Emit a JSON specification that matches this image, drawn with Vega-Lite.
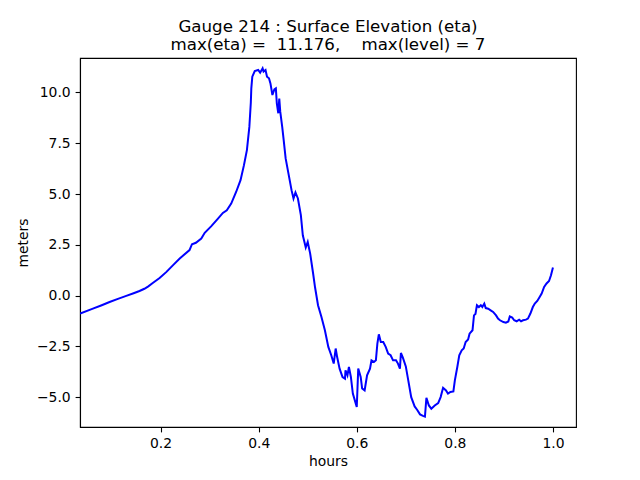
{
  "$schema": "https://vega.github.io/schema/vega-lite/v6.json",
  "autosize": {"type": "none"},
  "padding": {"left": 80, "top": 58, "right": 64, "bottom": 53},
  "width": 496,
  "height": 369,
  "title": {
    "text": ["Gauge 214 : Surface Elevation (eta)", "max(eta) =\u00a0\u00a011.176,\u00a0\u00a0\u00a0\u00a0max(level) = 7"],
    "font": "DejaVu Sans",
    "fontSize": 16.67,
    "fontWeight": "normal",
    "color": "black",
    "anchor": "middle",
    "lineHeight": 18,
    "offset": 4
  },
  "config": {
    "view": {"stroke": "black", "strokeWidth": 1.1},
    "axis": {
      "domainColor": "black",
      "domainWidth": 1.1,
      "tickColor": "black",
      "tickWidth": 1.1,
      "tickSize": 4.9,
      "labelFont": "DejaVu Sans",
      "labelFontSize": 13.9,
      "labelColor": "black",
      "labelPadding": 4.9,
      "titleFont": "DejaVu Sans",
      "titleFontSize": 13.9,
      "titleFontWeight": "normal",
      "titleColor": "black",
      "grid": false
    }
  },
  "data": {
    "values": [
      {"hours": 0.036, "eta": -0.88},
      {"hours": 0.062, "eta": -0.64},
      {"hours": 0.080, "eta": -0.47},
      {"hours": 0.096, "eta": -0.31},
      {"hours": 0.113, "eta": -0.16},
      {"hours": 0.130, "eta": -0.01},
      {"hours": 0.145, "eta": 0.12},
      {"hours": 0.157, "eta": 0.23},
      {"hours": 0.167, "eta": 0.34},
      {"hours": 0.175, "eta": 0.46},
      {"hours": 0.184, "eta": 0.62},
      {"hours": 0.198, "eta": 0.87},
      {"hours": 0.212, "eta": 1.17},
      {"hours": 0.225, "eta": 1.49},
      {"hours": 0.239, "eta": 1.83},
      {"hours": 0.259, "eta": 2.24},
      {"hours": 0.264, "eta": 2.53},
      {"hours": 0.272, "eta": 2.60},
      {"hours": 0.283, "eta": 2.81},
      {"hours": 0.290, "eta": 3.09},
      {"hours": 0.303, "eta": 3.41},
      {"hours": 0.317, "eta": 3.79},
      {"hours": 0.327, "eta": 4.07},
      {"hours": 0.335, "eta": 4.20},
      {"hours": 0.344, "eta": 4.53},
      {"hours": 0.354, "eta": 5.10},
      {"hours": 0.363, "eta": 5.68},
      {"hours": 0.370, "eta": 6.42},
      {"hours": 0.376, "eta": 7.16},
      {"hours": 0.381, "eta": 8.30},
      {"hours": 0.384, "eta": 9.50},
      {"hours": 0.385, "eta": 10.2},
      {"hours": 0.387, "eta": 10.77},
      {"hours": 0.392, "eta": 11.05},
      {"hours": 0.399, "eta": 11.10},
      {"hours": 0.403, "eta": 10.97},
      {"hours": 0.408, "eta": 11.18},
      {"hours": 0.410, "eta": 11.02},
      {"hours": 0.414, "eta": 11.10},
      {"hours": 0.417, "eta": 10.77},
      {"hours": 0.421, "eta": 10.69},
      {"hours": 0.424, "eta": 10.44},
      {"hours": 0.428, "eta": 9.87},
      {"hours": 0.432, "eta": 10.15},
      {"hours": 0.435, "eta": 10.20},
      {"hours": 0.437, "eta": 9.46},
      {"hours": 0.440, "eta": 8.97},
      {"hours": 0.442, "eta": 9.70},
      {"hours": 0.444, "eta": 9.05},
      {"hours": 0.448, "eta": 8.30},
      {"hours": 0.451, "eta": 7.65},
      {"hours": 0.455, "eta": 6.75},
      {"hours": 0.462, "eta": 5.84},
      {"hours": 0.467, "eta": 5.19},
      {"hours": 0.471, "eta": 4.78},
      {"hours": 0.475, "eta": 5.08},
      {"hours": 0.480, "eta": 4.78},
      {"hours": 0.486, "eta": 3.96},
      {"hours": 0.490, "eta": 2.97},
      {"hours": 0.496, "eta": 2.37},
      {"hours": 0.500, "eta": 2.64},
      {"hours": 0.505, "eta": 2.07},
      {"hours": 0.511, "eta": 1.09},
      {"hours": 0.515, "eta": 0.40},
      {"hours": 0.521, "eta": -0.47},
      {"hours": 0.528, "eta": -1.05},
      {"hours": 0.535, "eta": -1.70},
      {"hours": 0.542, "eta": -2.52},
      {"hours": 0.548, "eta": -2.93},
      {"hours": 0.553, "eta": -3.34},
      {"hours": 0.557, "eta": -2.60},
      {"hours": 0.560, "eta": -3.02},
      {"hours": 0.565, "eta": -3.59},
      {"hours": 0.571, "eta": -4.00},
      {"hours": 0.576, "eta": -4.08},
      {"hours": 0.577, "eta": -3.67},
      {"hours": 0.581, "eta": -3.92},
      {"hours": 0.584, "eta": -3.51},
      {"hours": 0.588, "eta": -4.00},
      {"hours": 0.592, "eta": -4.82},
      {"hours": 0.598, "eta": -5.31},
      {"hours": 0.600, "eta": -5.48},
      {"hours": 0.603, "eta": -3.59},
      {"hours": 0.608, "eta": -4.00},
      {"hours": 0.611, "eta": -4.57},
      {"hours": 0.616, "eta": -4.66},
      {"hours": 0.621, "eta": -3.92},
      {"hours": 0.627, "eta": -3.59},
      {"hours": 0.630, "eta": -3.18},
      {"hours": 0.635, "eta": -3.26},
      {"hours": 0.639, "eta": -3.18},
      {"hours": 0.642, "eta": -2.36},
      {"hours": 0.645, "eta": -1.90},
      {"hours": 0.649, "eta": -2.28},
      {"hours": 0.654, "eta": -2.28},
      {"hours": 0.659, "eta": -2.52},
      {"hours": 0.664, "eta": -2.85},
      {"hours": 0.669, "eta": -2.93},
      {"hours": 0.674, "eta": -3.18},
      {"hours": 0.680, "eta": -3.18},
      {"hours": 0.684, "eta": -3.34},
      {"hours": 0.688, "eta": -3.59},
      {"hours": 0.690, "eta": -2.82},
      {"hours": 0.694, "eta": -3.05},
      {"hours": 0.700, "eta": -3.48},
      {"hours": 0.705, "eta": -4.17},
      {"hours": 0.711, "eta": -4.99},
      {"hours": 0.718, "eta": -5.45},
      {"hours": 0.723, "eta": -5.61},
      {"hours": 0.729, "eta": -5.84},
      {"hours": 0.735, "eta": -5.91},
      {"hours": 0.739, "eta": -5.95},
      {"hours": 0.742, "eta": -5.03},
      {"hours": 0.747, "eta": -5.40},
      {"hours": 0.752, "eta": -5.56},
      {"hours": 0.759, "eta": -5.40},
      {"hours": 0.766, "eta": -5.28},
      {"hours": 0.771, "eta": -4.99},
      {"hours": 0.776, "eta": -4.53},
      {"hours": 0.782, "eta": -4.66},
      {"hours": 0.786, "eta": -4.82},
      {"hours": 0.791, "eta": -4.74},
      {"hours": 0.797, "eta": -4.71},
      {"hours": 0.800, "eta": -4.17},
      {"hours": 0.805, "eta": -3.51},
      {"hours": 0.809, "eta": -2.93},
      {"hours": 0.814, "eta": -2.69},
      {"hours": 0.818, "eta": -2.60},
      {"hours": 0.822, "eta": -2.28},
      {"hours": 0.827, "eta": -2.16},
      {"hours": 0.830, "eta": -1.87},
      {"hours": 0.836, "eta": -1.70},
      {"hours": 0.839, "eta": -0.97},
      {"hours": 0.842, "eta": -0.90},
      {"hours": 0.845, "eta": -0.47},
      {"hours": 0.849, "eta": -0.56},
      {"hours": 0.853, "eta": -0.47},
      {"hours": 0.856, "eta": -0.56},
      {"hours": 0.860, "eta": -0.39},
      {"hours": 0.863, "eta": -0.61},
      {"hours": 0.868, "eta": -0.64},
      {"hours": 0.873, "eta": -0.72},
      {"hours": 0.878, "eta": -0.80},
      {"hours": 0.884, "eta": -0.97},
      {"hours": 0.888, "eta": -1.13},
      {"hours": 0.892, "eta": -1.21},
      {"hours": 0.899, "eta": -1.30},
      {"hours": 0.904, "eta": -1.33},
      {"hours": 0.909, "eta": -1.27},
      {"hours": 0.912, "eta": -1.02},
      {"hours": 0.917, "eta": -1.08},
      {"hours": 0.921, "eta": -1.21},
      {"hours": 0.926, "eta": -1.26},
      {"hours": 0.931, "eta": -1.18},
      {"hours": 0.935, "eta": -1.26},
      {"hours": 0.939, "eta": -1.21},
      {"hours": 0.945, "eta": -1.18},
      {"hours": 0.949, "eta": -1.13},
      {"hours": 0.954, "eta": -0.88},
      {"hours": 0.959, "eta": -0.56},
      {"hours": 0.963, "eta": -0.39},
      {"hours": 0.968, "eta": -0.26},
      {"hours": 0.972, "eta": -0.10},
      {"hours": 0.977, "eta": 0.10},
      {"hours": 0.982, "eta": 0.43},
      {"hours": 0.987, "eta": 0.60},
      {"hours": 0.992, "eta": 0.72},
      {"hours": 0.996, "eta": 1.00},
      {"hours": 1.000, "eta": 1.38}
    ]
  },
  "mark": {"type": "line", "color": "#0000ff", "strokeWidth": 2, "clip": true},
  "encoding": {
    "x": {
      "field": "hours",
      "type": "quantitative",
      "scale": {"domain": [0.0357, 1.047], "nice": false, "zero": false},
      "axis": {"values": [0.2, 0.4, 0.6, 0.8, 1.0], "format": ".1f", "title": "hours", "titlePadding": 4}
    },
    "y": {
      "field": "eta",
      "type": "quantitative",
      "scale": {"domain": [-6.46, 11.69], "nice": false, "zero": false},
      "axis": {"values": [-5, -2.5, 0, 2.5, 5, 7.5, 10], "format": ".1f", "title": "meters", "titlePadding": 6}
    }
  }
}
